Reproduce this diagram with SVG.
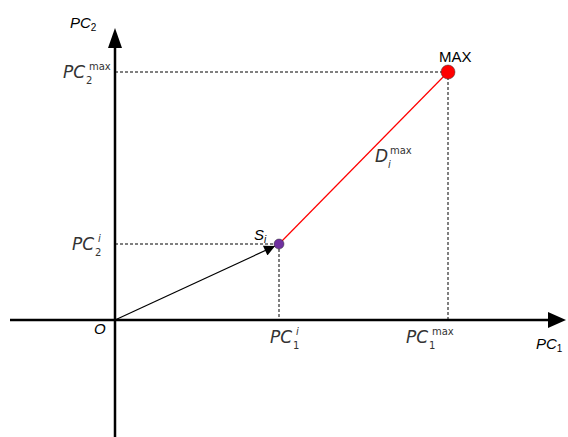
<svg xmlns="http://www.w3.org/2000/svg" width="568" height="437" viewBox="0 0 568 437">
<style>
.axis{stroke:#000;stroke-width:2.5;fill:none}
.dash{stroke:#000;stroke-width:1;stroke-dasharray:3,2;fill:none}
.lbl{font-family:"DejaVu Sans",sans-serif;font-style:italic;font-size:17px;fill:#333}
.sub{font-family:"DejaVu Sans",sans-serif;font-size:10px;fill:#333}
.ar{font-family:"Liberation Sans",Arial,sans-serif;font-size:15px;fill:#000}
</style>
<defs>
<marker id="ah2" viewBox="0 0 10 10" refX="10" refY="5" markerWidth="12" markerHeight="9" orient="auto" markerUnits="strokeWidth"><path d="M0,0 L10,5 L0,10 z" fill="#000"/></marker>
</defs>
<g id="connectors">
<line class="dash" x1="115" y1="72" x2="448" y2="72"/>
<line class="dash" x1="448" y1="72" x2="448" y2="320"/>
<line class="dash" x1="115" y1="244" x2="279" y2="244"/>
<line class="dash" x1="279" y1="244" x2="279" y2="320"/>
<line x1="279" y1="244" x2="448" y2="72" stroke="#f00" stroke-width="1.2"/>
<line x1="115" y1="320" x2="275" y2="246" stroke="#000" stroke-width="1.2" marker-end="url(#ah2)"/>
</g>
<g id="axes">
<line class="axis" x1="10" y1="320" x2="549" y2="320"/>
<path d="M548,312 L566,320 L548,328 z" fill="#000"/>
<line class="axis" x1="115" y1="437" x2="115" y2="47"/>
<path d="M108,48 L115,28 L122,48 z" fill="#000"/>
</g>
<g id="origin"><text class="ar" x="94" y="334" font-style="italic">O</text></g>
<g id="si"><circle cx="279" cy="244" r="5" fill="#7030a0" stroke="#333" stroke-width="0.5"/><text class="ar" x="254" y="240" font-style="italic">S<tspan font-size="10" dy="3">i</tspan></text></g>
<g id="max"><circle cx="448" cy="72" r="7" fill="#f00" stroke="#333" stroke-width="0.5"/><text class="ar" x="439" y="62" font-size="16">MAX</text></g>
<g id="labels">
<text class="ar" x="70" y="28" font-style="italic">PC<tspan font-size="10" dy="3" font-style="normal">2</tspan></text>
<text class="ar" x="536" y="349" font-style="italic">PC<tspan font-size="10" dy="3" font-style="normal">1</tspan></text>
<text class="lbl" x="63" y="78">PC</text><text class="sub" x="86" y="84">2</text><text class="sub" x="89" y="70">max</text>
<text class="lbl" x="72" y="250">PC</text><text class="sub" x="95" y="256">2</text><text class="sub" x="98" y="242" font-style="italic">i</text>
<text class="lbl" x="270" y="343">PC</text><text class="sub" x="293" y="349">1</text><text class="sub" x="296" y="335" font-style="italic">i</text>
<text class="lbl" x="406" y="343">PC</text><text class="sub" x="429" y="349">1</text><text class="sub" x="432" y="335">max</text>
<text class="lbl" x="375" y="162">D</text><text class="sub" x="388" y="168" font-style="italic">i</text><text class="sub" x="390" y="154">max</text>
</g>
</svg>
